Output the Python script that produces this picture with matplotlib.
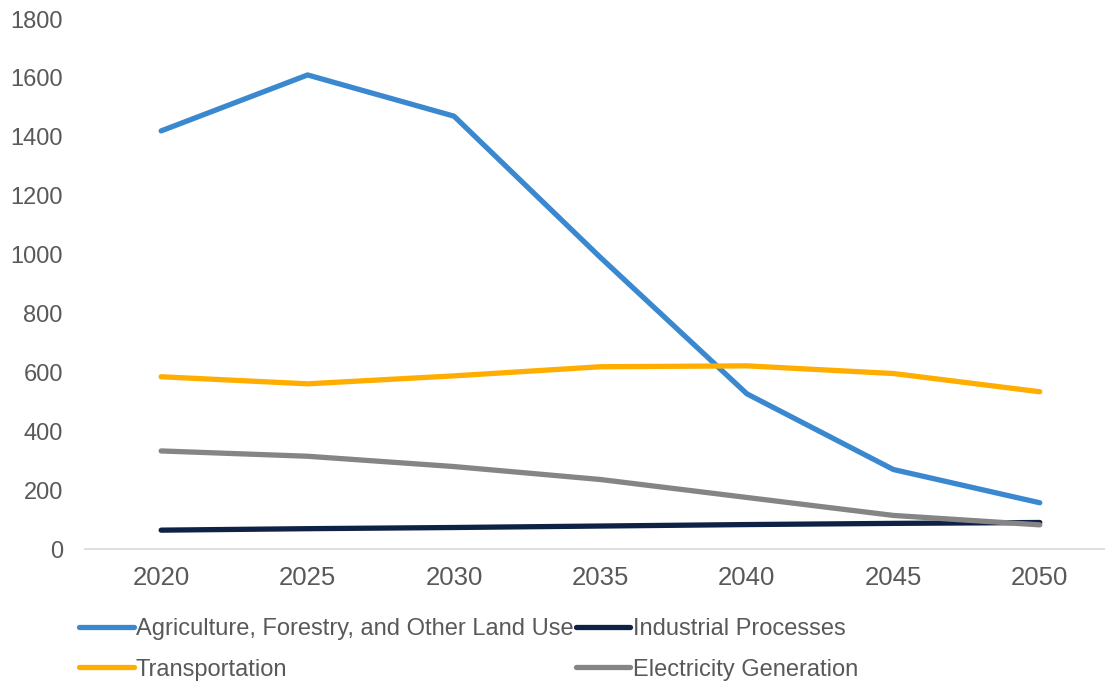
import matplotlib.pyplot as plt
from matplotlib.lines import Line2D

plt.rcParams['font.family'] = ['Liberation Sans', 'DejaVu Sans']

# Data
years = ['2020', '2025', '2030', '2035', '2040', '2045', '2050']
agriculture = [1420, 1610, 1470, 990, 527, 270, 157]
industrial = [64, 69, 73, 78, 83, 87, 90]
transportation = [585, 561, 588, 619, 622, 596, 534]
electricity = [333, 315, 280, 236, 175, 114, 82]

series = [
    ("Agriculture, Forestry, and Other Land Use", agriculture, '#3a88cf'),
    ("Industrial Processes", industrial, '#0e2245'),
    ("Transportation", transportation, '#ffae00'),
    ("Electricity Generation", electricity, '#858585'),
]

fig = plt.figure(figsize=(11.05, 6.81), dpi=100)
ax = fig.add_axes([85 / 1105, 1 - 549 / 681, 1028 / 1105, 530 / 681])

x = list(range(len(years)))
for name, vals, color in series:
    ax.plot(x, vals, color=color, linewidth=3.8, solid_capstyle='round',
            solid_joinstyle='round', label=name)

ax.set_xlim(-0.52, 6.5)
ax.set_ylim(0, 1800)
ax.set_yticks(range(0, 1801, 200))
ax.set_xticks(x)
ax.set_xticklabels(years)

for side in ['top', 'right', 'left']:
    ax.spines[side].set_visible(False)
ax.spines['bottom'].set_color('#d9d9d9')
ax.spines['bottom'].set_linewidth(1.2)
ax.tick_params(axis='both', length=0, colors='#595959')
ax.tick_params(axis='x', pad=12, labelsize=18.5)
ax.tick_params(axis='y', pad=16, labelsize=17)

# legend in two columns below the plot
handles = [Line2D([], [], color=c, linewidth=3.8, solid_capstyle='round') for _, _, c in series]
labels = [n for n, _, _ in series]
order = [0, 2, 1, 3]
leg = fig.legend([handles[i] for i in order], [labels[i] for i in order],
                 ncol=2, loc='upper left', bbox_to_anchor=(58 / 1105, 1 - 597 / 681),
                 frameon=False, fontsize=17, handlelength=2.3, handletextpad=0.1,
                 columnspacing=0.1, labelspacing=0.78)
for t in leg.get_texts():
    t.set_color('#595959')

fig.savefig('out.png', dpi=100)
